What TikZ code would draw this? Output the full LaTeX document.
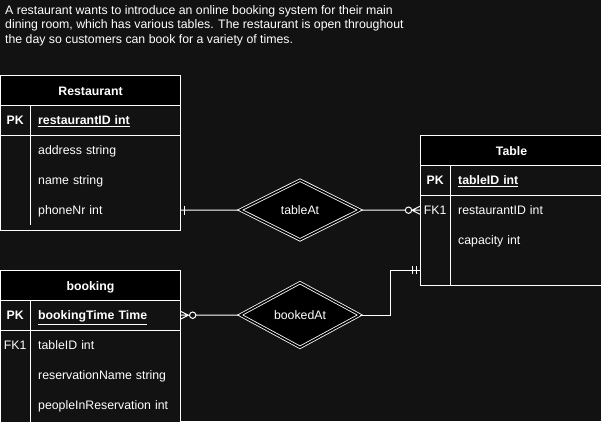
\documentclass[tikz,border=0pt]{standalone}
\usepackage{fontspec}
\setmainfont{Liberation Sans}
\usetikzlibrary{shapes.geometric,calc}
\definecolor{bgc}{HTML}{121212}
\tikzset{
  txt/.style={font=\fontsize{12.3}{14.4}\selectfont, text height=11pt, text depth=2pt},
  bold/.style={font=\fontsize{12.3}{14.4}\selectfont\bfseries},
  ent/.style={draw=white, line width=1pt, fill=bgc, anchor=north west, minimum width=180pt, inner sep=0pt},
  enthead/.style={txt, bold, draw=white, line width=1pt, fill=black, anchor=north west, minimum width=180pt, minimum height=30pt, inner sep=0pt},
  keycell/.style={txt, anchor=north west, minimum width=30pt, minimum height=30pt, inner sep=0pt},
  attrcell/.style={txt, anchor=north west, minimum height=30pt, text width=134pt, inner xsep=8pt, inner ysep=0pt, align=left},
  rel/.style={txt, shape=diamond, draw=white, line width=0.8pt, double=black, double distance=1.6pt, fill=black, minimum width=120pt, minimum height=60pt, inner sep=0pt},
  conn/.style={draw=white, line width=1pt},
}
\begin{document}
\begin{tikzpicture}[x=1pt, y=-1pt, font=\fontsize{12.3}{14.4}\selectfont, text=white]
\useasboundingbox[fill=bgc] (0,0) rectangle (601,421);
% intro
\node[anchor=north west, inner sep=0pt, align=left] (intro) at (5,5.3)
  {A restaurant wants to introduce an online booking system for their main\\
   dining room, which has various tables. The restaurant is open throughout\\
   the day so customers can book for a variety of times.};
%Restaurant
\node[ent, minimum height=155pt] (restBox) at (0,75) {};
\node[enthead] (restHead) at (0,75) {Restaurant};
\node[keycell, bold] (restPKkey) at (0,105) {PK};
\node[attrcell, bold] (restPK) at (30,105) {\underline{restaurantID int}};
\node[attrcell] (restAddr) at (30,135) {address string};
\node[attrcell] (restName) at (30,165) {name string};
\node[attrcell] (restPhone) at (30,195) {phoneNr int};
\draw[conn] (restBox.west |- restPK.south) -- (restBox.east |- restPK.south);
\draw[conn] (restPK.north west) -- (restPhone.south west);
%Table
\node[ent, minimum width=182pt, minimum height=150pt] (tblBox) at (420,135) {};
\node[enthead, minimum width=182pt] (tblHead) at (420,135) {Table};
\node[keycell, bold] (tblPKkey) at (420,165) {PK};
\node[attrcell, bold] (tblPK) at (450,165) {\underline{tableID int}};
\node[keycell] (tblFKkey) at (420,195) {FK1};
\node[attrcell] (tblFK) at (450,195) {restaurantID int};
\node[attrcell] (tblCap) at (450,225) {capacity int};
\node[keycell] (tblEmptyKey) at (420,255) {};
\node[attrcell] (tblEmpty) at (450,255) {};
\draw[conn] (tblBox.west |- tblPK.south) -- (tblBox.east |- tblPK.south);
\draw[conn] (tblPK.north west) -- (tblEmpty.south west);
%booking
\node[ent, minimum height=160pt] (bookBox) at (0,270) {};
\node[enthead] (bookHead) at (0,270) {booking};
\node[keycell, bold] (bookPKkey) at (0,300) {PK};
\node[attrcell, bold] (bookPK) at (30,300) {\underline{bookingTime Time}};
\node[keycell] (bookFKkey) at (0,330) {FK1};
\node[attrcell] (bookFK) at (30,330) {tableID int};
\node[attrcell] (bookName) at (30,360) {reservationName string};
\node[attrcell] (bookPeople) at (30,390) {peopleInReservation int};
\draw[conn] (bookBox.west |- bookPK.south) -- (bookBox.east |- bookPK.south);
\draw[conn] (bookPK.north west) -- (bookPK.west |- bookBox.south);
%relations
\node[rel] (tableAt) at (300,210) {tableAt};
\node[rel] (bookedAt) at (300,315) {bookedAt};
% Restaurant -- tableAt -- Table
\draw[conn] (restPhone.east) -- (tableAt.west);
\draw[conn] (restPhone.east) ++(4,-4.5) -- ++(0,9);
\draw[conn] (tableAt.east) -- ($(tblFKkey.west)+(-14.7,0)$);
\draw[conn] ($(tblFKkey.west)+(-11.5,0)$) circle[radius=3.2pt];
\draw[conn] (tblFKkey.west) ++(0,-4) -- ++(-8,4) -- ++(8,4) (tblFKkey.west) -- ++(-8,0);
% booking -- bookedAt -- Table
\draw[conn] (bookPK.east) ++(0,-4) -- ++(8,4) -- ++(-8,4) (bookPK.east) -- ++(8,0);
\draw[conn] ($(bookPK.east)+(12.3,0)$) circle[radius=3.2pt];
\draw[conn] ($(bookPK.east)+(15.5,0)$) -- (bookedAt.west);
\draw[conn] (bookedAt.east) -- ++(30,0) |- (tblEmptyKey.west);
\draw[conn] (tblEmptyKey.west) ++(-8,-4) -- ++(0,8) ++(4,-8) -- ++(0,8);
\end{tikzpicture}
\end{document}
